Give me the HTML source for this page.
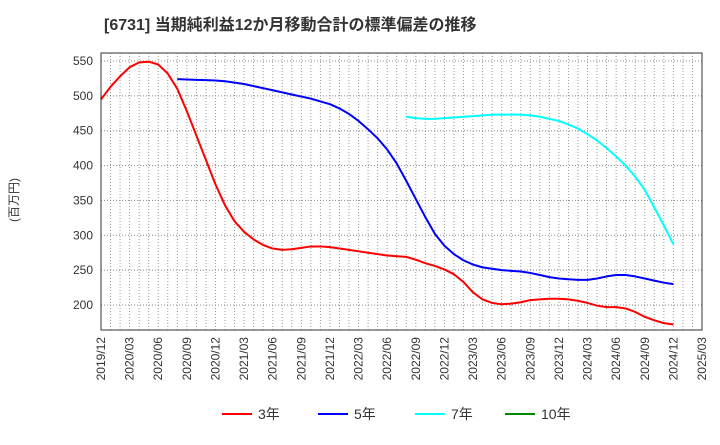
<!DOCTYPE html>
<html><head><meta charset="utf-8"><style>
body{margin:0;background:#fff;}
svg text{font-family:"Liberation Sans","Noto Sans CJK JP",sans-serif;}
</style></head><body>
<svg width="720" height="440" id="c">
<text x="104" y="30" font-size="16" font-weight="bold" fill="#333">[6731]  当期純利益12か月移動合計の標準偏差の推移</text>
<text transform="translate(18,200) rotate(-90)" text-anchor="middle" font-size="12" fill="#333">(百万円)</text>
<g id="grid"></g><g id="series"></g><g id="ticks"></g>
<rect x="101" y="53" width="601" height="277" fill="none" stroke="#333"/>
<g font-size="14" fill="#333">
<line x1="222" y1="414" x2="252" y2="414" stroke="#f00" stroke-width="2"/><text x="258" y="419">3年</text>
<line x1="318" y1="414" x2="348" y2="414" stroke="#00f" stroke-width="2"/><text x="354" y="419">5年</text>
<line x1="415" y1="414" x2="445" y2="414" stroke="#0ff" stroke-width="2"/><text x="451" y="419">7年</text>
<line x1="505" y1="414" x2="535" y2="414" stroke="#080" stroke-width="2"/><text x="541" y="419">10年</text>
</g>
</svg>
<script>
const yTicks=[200,250,300,350,400,450,500,550];
const xTickLabels=["2019/12","2020/03","2020/06","2020/09","2020/12","2021/03","2021/06","2021/09","2021/12","2022/03","2022/06","2022/09","2022/12","2023/03","2023/06","2023/09","2023/12","2024/03","2024/06","2024/09","2024/12","2025/03"];
const s3=[495,513,528,541,548,549,545,532,510,478,443,408,373,343,320,305,294,286,281,279,280,282,284,284,283,281,279,277,275,273,271,270,269,265,260,256,251,244,233,218,208,203,201,202,204,207,208,209,209,208,206,203,199,197,197,195,190,183,178,174,172];
const s3Start=0;
const s5=[524,523.5,523,522.5,522,521,519,517,514,511,508,505,502,499,496,492,488,482,474,464,452,439,423,403,378,352,326,302,285,273,264,258,254,252,250,249,248,246,243,240,238,237,236,236,238,241,243,243,241,238,235,232,230];
const s5Start=8;
const s7=[470,468,467,467,468,469,470,471,472,473,473,473,473,472,470,467,464,459,453,445,436,425,413,400,384,365,340,314,287];
const s7Start=32;
const X=m=>101+m*601/63, Y=v=>305-(v-200)*244/350;
const NS="http://www.w3.org/2000/svg";
function mk(t,a,p){const e=document.createElementNS(NS,t);for(const k in a)e.setAttribute(k,a[k]);p.appendChild(e);return e;}
const g=document.getElementById('grid'),tk=document.getElementById('ticks'),sr=document.getElementById('series');
for(let m=1;m<63;m++){const l=mk('line',{x1:X(m),x2:X(m),y1:53,y2:330,stroke:'#999','stroke-dasharray':'1,2'},g);

}
yTicks.forEach(v=>{const l=mk('line',{x1:101,x2:702,y1:Y(v),y2:Y(v),stroke:'#888','stroke-dasharray':'1,2'},g);


const t=mk('text',{x:93,y:Y(v)+4,'text-anchor':'end','font-size':12,fill:'#333'},tk);t.textContent=v;

});
xTickLabels.forEach((s,i)=>{const x=X(i*3);const t=mk('text',{transform:`translate(${x+4},337) rotate(-90)`,'text-anchor':'end','font-size':12,fill:'#333'},tk);t.textContent=s;

});
[[s3,s3Start,'#f00','line-3y'],[s5,s5Start,'#00f','line-5y'],[s7,s7Start,'#0ff','line-7y']].forEach(([d,st,c,n])=>{
const p=mk('polyline',{points:d.map((v,i)=>X(st+i)+','+Y(v)).join(' '),fill:'none',stroke:c,'stroke-width':2,'stroke-linejoin':'round'},sr);

});
</script>
</body></html>
